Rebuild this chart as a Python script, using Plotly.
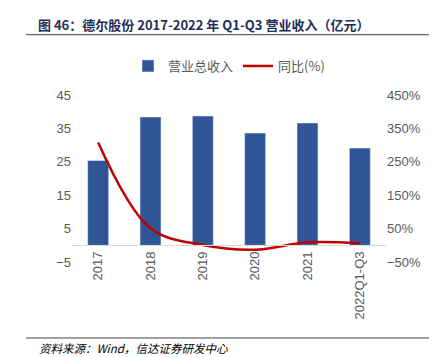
import plotly.graph_objects as go

categories = ["2017", "2018", "2019", "2020", "2021", "2022Q1-Q3"]
revenue = [25.4, 38.4, 38.7, 33.6, 36.6, 29.1]
yoy = [308, 51, 1, -13, 9, 6]

W, H = 437, 357
L, R, T, B = 64, 59, 87, 103
ph = H - T - B
pw = W - L - R

def py(px):
    return (H - B - px) / ph

def pxx(px):
    return (px - L) / pw

font_fam = "Liberation Sans, Arial, Noto Sans CJK SC, sans-serif"
cjk = "Noto Sans CJK SC, sans-serif"
gray = "#595959"

fig = go.Figure()
fig.add_trace(go.Bar(x=categories, y=revenue, name="营业总收入", marker_color="#2F5597",
                     width=0.4, yaxis="y"))
fig.add_trace(go.Scatter(x=categories, y=yoy, name="同比(%)", mode="lines",
                         line=dict(color="#C00000", width=2.5, shape="spline", smoothing=1),
                         yaxis="y2"))

fig.update_layout(
    width=W, height=H,
    margin=dict(l=L, r=R, t=T, b=B),
    paper_bgcolor="white", plot_bgcolor="white",
    font=dict(family=font_fam, color=gray, size=13),
    showlegend=True,
    legend=dict(orientation="h", x=0.5, xanchor="center", y=py(58), yanchor="middle",
                font=dict(family=cjk, size=13, color=gray), itemwidth=30,
                traceorder="normal"),
    bargap=0.6,
    title=dict(text="<b>图 46：德尔股份 2017-2022 年 Q1-Q3 营业收入（亿元）</b>",
               x=30 / W, xanchor="left", xref="container",
               y=1 - 17 / H, yanchor="middle", yref="container",
               font=dict(family=cjk, size=13, color="#1F2D5A")),
    xaxis=dict(anchor="free", position=0.1, showline=True, linecolor="#D9D9D9", linewidth=1,
               tickangle=-90, ticks="", showgrid=False, zeroline=False,
               tickfont=dict(size=13, color=gray)),
    yaxis=dict(range=[-5, 45], tick0=-5, dtick=10, showgrid=False, zeroline=False,
               showline=False, ticks="", tickfont=dict(size=13, color=gray)),
    yaxis2=dict(range=[-50, 450], tick0=-50, dtick=100, overlaying="y", side="right",
                ticksuffix="%", showgrid=False, zeroline=False, showline=False, ticks="",
                tickfont=dict(size=13, color=gray)),
    shapes=[
        dict(type="line", xref="paper", yref="paper", x0=pxx(18), x1=pxx(425),
             y0=py(26.7), y1=py(26.7), line=dict(color="#404040", width=1)),
        dict(type="line", xref="paper", yref="paper", x0=pxx(18), x1=pxx(425),
             y0=py(330), y1=py(330), line=dict(color="#808080", width=1.5)),
    ],
    annotations=[
        dict(text="<i>资料来源：Wind，信达证券研发中心</i>", xref="paper", yref="paper",
             x=pxx(29), y=py(340), xanchor="left", yanchor="middle", showarrow=False,
             font=dict(family=cjk, size=11.5, color="#000000")),
    ],
)

fig.write_html("out.html")
